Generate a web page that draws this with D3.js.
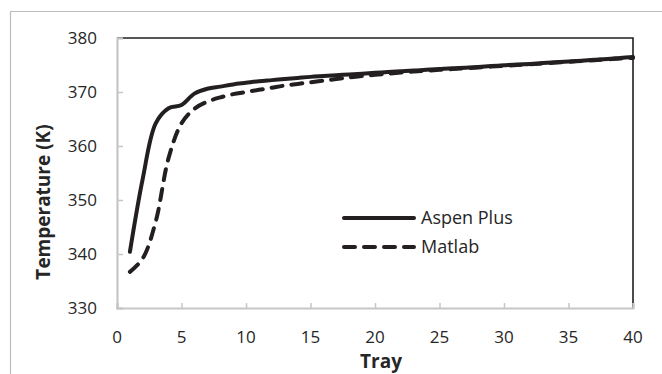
<!DOCTYPE html>
<html>
<head>
<meta charset="utf-8">
<script src="https://cdn.jsdelivr.net/npm/d3@7"></script>
<style>
  body { margin: 0; background: #fff; }
  text { font-family: "Open Sans", sans-serif; fill: #262626; }
</style>
</head>
<body>
<div id="chart"></div>
<script>
// trays 1..40
var trays = d3.range(1, 41);
var aspenPlus = [340.4, 354.0, 364.2, 367.0, 367.6, 369.7, 370.6, 371.0, 371.4, 371.7,
  372.0, 372.2, 372.4, 372.6, 372.8, 372.95, 373.1, 373.25, 373.4, 373.55,
  373.7, 373.85, 374.0, 374.1, 374.25, 374.4, 374.5, 374.65, 374.8, 374.95,
  375.1, 375.2, 375.35, 375.5, 375.65, 375.8, 375.95, 376.1, 376.3, 376.5];
var matlab = [336.7, 339.2, 346.0, 357.8, 364.2, 366.9, 368.2, 369.0, 369.6, 370.0,
  370.4, 370.8, 371.2, 371.5, 371.8, 372.1, 372.4, 372.7, 372.95, 373.2,
  373.4, 373.6, 373.8, 373.95, 374.1, 374.25, 374.4, 374.55, 374.7, 374.85,
  375.0, 375.15, 375.3, 375.45, 375.6, 375.75, 375.9, 376.05, 376.2, 376.3];
var xTicks = [0, 5, 10, 15, 20, 25, 30, 35, 40];
var yTicks = [330, 340, 350, 360, 370, 380];
var seriesNames = ["Aspen Plus", "Matlab"];

var W = 662, H = 374;
var plotL = 117, plotR = 633, plotT = 38, plotB = 308;

var svg = d3.select("#chart").append("svg")
  .attr("width", W).attr("height", H);

// outer chart border (only top and left visible)
svg.append("line").attr("x1", 10.5).attr("x2", W).attr("y1", 11.5).attr("y2", 11.5)
  .attr("stroke", "#bcbcbc").attr("stroke-width", 1.2);
svg.append("line").attr("x1", 10.5).attr("x2", 10.5).attr("y1", 11.5).attr("y2", H)
  .attr("stroke", "#bcbcbc").attr("stroke-width", 1.2);

var x = d3.scaleLinear().domain([0, 40]).range([plotL, plotR]);
var y = d3.scaleLinear().domain([330, 380]).range([plotB, plotT]);

// frame top/right
svg.append("path")
  .attr("d", "M" + plotL + "," + plotT + "H" + plotR + "V" + plotB)
  .attr("fill", "none").attr("stroke", "#231f20").attr("stroke-width", 1.6);

// y axis
var yAxis = svg.append("g").attr("transform", "translate(" + plotL + ",0)")
  .call(d3.axisRight(y).tickValues(yTicks).tickSize(6).tickFormat(""));
yAxis.select(".domain").attr("stroke", "#c6c6c6").attr("stroke-width", 2.2);
yAxis.selectAll(".tick line").attr("stroke", "#c6c6c6").attr("stroke-width", 1.5);
svg.selectAll(".ylab").data(yTicks).enter().append("text")
  .attr("x", 97).attr("y", function (d) { return y(d); })
  .attr("dy", "0.35em").attr("text-anchor", "end")
  .style("font-size", "17px").text(function (d) { return d; });

// x axis
var xAxis = svg.append("g").attr("transform", "translate(0," + plotB + ")")
  .call(d3.axisTop(x).tickValues(xTicks).tickSize(5).tickFormat(""));
xAxis.select(".domain").attr("stroke", "#c6c6c6").attr("stroke-width", 2.2);
xAxis.selectAll(".tick line").attr("stroke", "#c6c6c6").attr("stroke-width", 1.5);
svg.selectAll(".xlab").data(xTicks).enter().append("text")
  .attr("x", function (d) { return x(d); }).attr("y", 343)
  .attr("text-anchor", "middle")
  .style("font-size", "17px").text(function (d) { return d; });

// axis titles
svg.append("text").attr("x", 381).attr("y", 368).attr("text-anchor", "middle")
  .style("font-size", "19px").style("font-weight", "bold").text("Tray");
svg.append("text").attr("transform", "translate(50,202) rotate(-90)")
  .attr("text-anchor", "middle")
  .style("font-size", "19px").style("font-weight", "bold").text("Temperature (K)");

// lines
var line = d3.line()
  .x(function (d, i) { return x(trays[i]); })
  .y(function (d) { return y(d); })
  .curve(d3.curveCatmullRom);

var dash = "11,9";
svg.append("path").datum(matlab).attr("d", line)
  .attr("fill", "none").attr("stroke", "#231f20").attr("stroke-width", 4)
  .attr("stroke-linecap", "round").attr("stroke-dasharray", dash);
svg.append("path").datum(aspenPlus).attr("d", line)
  .attr("fill", "none").attr("stroke", "#231f20").attr("stroke-width", 4)
  .attr("stroke-linecap", "round");

// legend
var legendY = [218, 247];
seriesNames.forEach(function (name, i) {
  var ln = svg.append("line").attr("x1", 344).attr("x2", 414)
    .attr("y1", legendY[i]).attr("y2", legendY[i])
    .attr("stroke", "#231f20").attr("stroke-width", 4).attr("stroke-linecap", "round");
  if (i == 1) ln.attr("stroke-dasharray", dash);
  svg.append("text").attr("x", 421).attr("y", legendY[i]).attr("dy", "0.35em")
    .style("font-size", "18px").text(name);
});
</script>
</body>
</html>
